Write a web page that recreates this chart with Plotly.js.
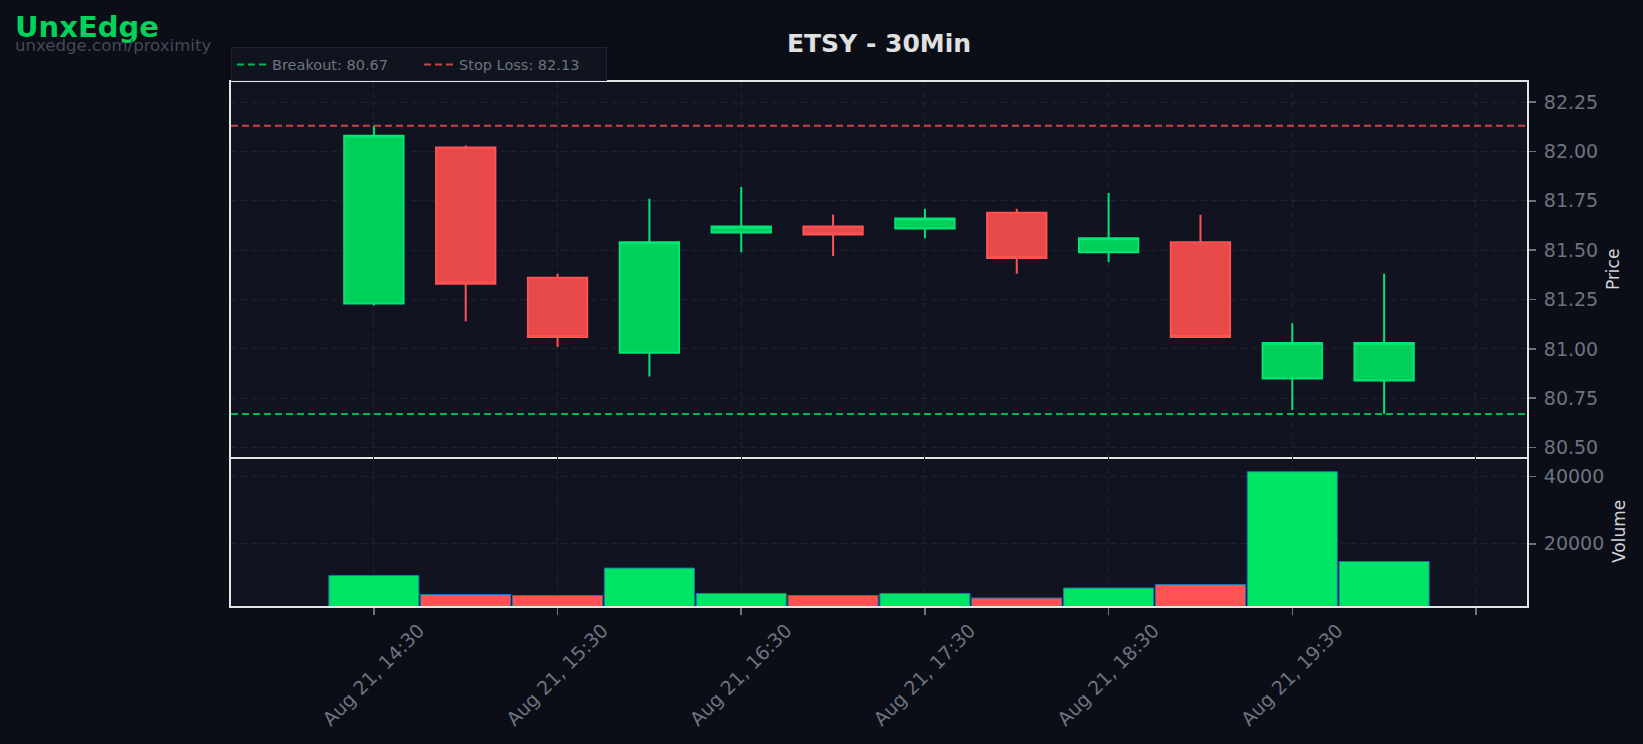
<!DOCTYPE html>
<html>
<head>
<meta charset="utf-8">
<script src="https://cdn.plot.ly/plotly-3.0.1.min.js"></script>
<style>
html,body{margin:0;padding:0;background:#0b0e17;}
#chart{width:1643px;height:744px;}
</style>
</head>
<body>
<div id="chart"></div>
<script>
// ---- data ----
const times = ['2025-08-21 14:30','2025-08-21 15:00','2025-08-21 15:30','2025-08-21 16:00',
               '2025-08-21 16:30','2025-08-21 17:00','2025-08-21 17:30','2025-08-21 18:00',
               '2025-08-21 18:30','2025-08-21 19:00','2025-08-21 19:30','2025-08-21 20:00'];
const opens  = [81.23, 82.02, 81.36, 80.98, 81.59, 81.62, 81.61, 81.69, 81.49, 81.54, 80.85, 80.84];
const highs  = [82.13, 82.03, 81.38, 81.76, 81.82, 81.68, 81.71, 81.71, 81.79, 81.68, 81.13, 81.38];
const lows   = [81.22, 81.14, 81.01, 80.86, 81.49, 81.47, 81.56, 81.38, 81.44, 81.06, 80.69, 80.67];
const closes = [82.08, 81.33, 81.06, 81.54, 81.62, 81.58, 81.66, 81.46, 81.56, 81.06, 81.03, 81.03];
const volumes = [10580, 4930, 4630, 12770, 5230, 4630, 5230, 3860, 6830, 7900, 41460, 14730];
const breakout = 80.67;
const stopLoss = 82.13;
const tickVals = ['2025-08-21 14:30','2025-08-21 15:30','2025-08-21 16:30','2025-08-21 17:30',
                  '2025-08-21 18:30','2025-08-21 19:30','2025-08-21 20:30'];
const tickText = ['Aug 21, 14:30','Aug 21, 15:30','Aug 21, 16:30','Aug 21, 17:30',
                  'Aug 21, 18:30','Aug 21, 19:30',''];
const xRange = ['2025-08-21 13:43:20','2025-08-21 20:46:40'];
const priceRange = [80.454, 82.352];
const volumeRange = [1490, 45940];

// ---- styles ----
const UP_LINE = '#00e676', UP_FILL = '#00d05a';
const DN_LINE = '#ff5252', DN_FILL = '#e84a4a';
const VOL_UP = '#00e664', VOL_DN = '#ff5252';
const GRID = '#1f2330';
const FRAME = '#e6e6e6';
const TICKC = '#6e7380';
const FONT = 'DejaVu Sans';

const volColors = closes.map((c, i) => c >= opens[i] ? VOL_UP : VOL_DN);

const traces = [
  {
    type: 'candlestick', x: times, open: opens, high: highs, low: lows, close: closes,
    xaxis: 'x', yaxis: 'y', showlegend: false, hoverinfo: 'skip',
    increasing: {line: {color: UP_LINE, width: 2}, fillcolor: UP_FILL},
    decreasing: {line: {color: DN_LINE, width: 2}, fillcolor: DN_FILL}
  },
  {
    type: 'bar', x: times, y: volumes, xaxis: 'x2', yaxis: 'y2', showlegend: false,
    marker: {color: volColors, line: {color: '#1f77b4', width: 1}}, hoverinfo: 'skip'
  }
];

const axisCommon = {
  showgrid: true, gridcolor: GRID, gridwidth: 1, griddash: '6px,4px',
  showline: true, mirror: true, linecolor: FRAME, linewidth: 2, zeroline: false
};

const layout = {
  width: 1643, height: 744,
  paper_bgcolor: '#0b0e17', plot_bgcolor: '#111420',
  margin: {l: 231, r: 116, t: 82, b: 138, pad: 0},
  font: {family: FONT, color: TICKC},
  title: {
    text: 'ETSY - 30Min', x: 0.5, xref: 'paper', xanchor: 'center',
    y: 1 - 43 / 744, yref: 'container', yanchor: 'middle',
    font: {family: FONT, size: 25, color: '#e0e0e0', weight: 'bold'}
  },
  showlegend: true,
  legend: {
    orientation: 'h', x: 0, xanchor: 'left', y: 1.001, yanchor: 'bottom',
    bgcolor: '#10141e', bordercolor: '#1f2330', borderwidth: 1,
    entrywidth: 142, entrywidthmode: 'pixels',
    font: {family: FONT, size: 14.5, color: TICKC}
  },
  bargap: 0.02,
  boxgap: 0.354,
  boxgroupgap: 0,
  xaxis: Object.assign({}, axisCommon, {
    type: 'date', anchor: 'y', range: xRange, tickvals: tickVals,
    showticklabels: false, ticks: '', rangeslider: {visible: false}
  }),
  xaxis2: Object.assign({}, axisCommon, {
    type: 'date', anchor: 'y2', matches: 'x', range: xRange, mirror: false,
    tickvals: tickVals, ticktext: tickText, tickangle: -45,
    ticklabelshift: 45, ticklabelstandoff: -3,
    ticks: 'outside', ticklen: 7, tickwidth: 1.5, tickcolor: TICKC,
    tickfont: {family: FONT, size: 19, color: TICKC}
  }),
  yaxis: Object.assign({}, axisCommon, {
    domain: [0.285, 1], anchor: 'x', side: 'right', range: priceRange,
    tick0: 80.5, dtick: 0.25, tickformat: '.2f',
    ticks: 'outside', ticklen: 7, tickwidth: 1.5, tickcolor: TICKC,
    ticklabelstandoff: 4,
    tickfont: {family: FONT, size: 19, color: TICKC},
    title: {text: 'Price', standoff: 10, font: {family: FONT, size: 17, color: '#d1d4dc'}}
  }),
  yaxis2: Object.assign({}, axisCommon, {
    domain: [0, 0.285], anchor: 'x2', side: 'right', range: volumeRange,
    dtick: 20000, tickformat: 'd',
    ticks: 'outside', ticklen: 7, tickwidth: 1.5, tickcolor: TICKC,
    ticklabelstandoff: 4,
    tickfont: {family: FONT, size: 19, color: TICKC},
    title: {text: 'Volume', standoff: 10, font: {family: FONT, size: 17, color: '#d1d4dc'}}
  }),
  shapes: [
    {type: 'line', xref: 'x domain', x0: 0, x1: 1, yref: 'y', y0: breakout, y1: breakout,
     line: {color: '#00b852', width: 2, dash: '7px,4px'},
     showlegend: true, name: 'Breakout: ' + breakout.toFixed(2)},
    {type: 'line', xref: 'x domain', x0: 0, x1: 1, yref: 'y', y0: stopLoss, y1: stopLoss,
     line: {color: '#c94446', width: 2, dash: '7px,4px'},
     showlegend: true, name: 'Stop Loss: ' + stopLoss.toFixed(2)}
  ],
  annotations: [
    {text: 'UnxEdge', showarrow: false, xref: 'paper', yref: 'paper', borderpad: 0,
     x: (14 - 231) / 1296, xanchor: 'left', y: (606.3 - 26) / 524.8, yanchor: 'middle',
     font: {family: FONT, size: 29, color: '#00d25b', weight: 'bold'}},
    {text: 'unxedge.com/proximity', showarrow: false, xref: 'paper', yref: 'paper', borderpad: 0,
     x: (14 - 231) / 1296, xanchor: 'left', y: (606.3 - 45) / 524.8, yanchor: 'middle',
     font: {family: FONT, size: 16.6, color: '#434955'}}
  ]
};

Plotly.newPlot('chart', traces, layout, {displayModeBar: false, staticPlot: true});
</script>
</body>
</html>
